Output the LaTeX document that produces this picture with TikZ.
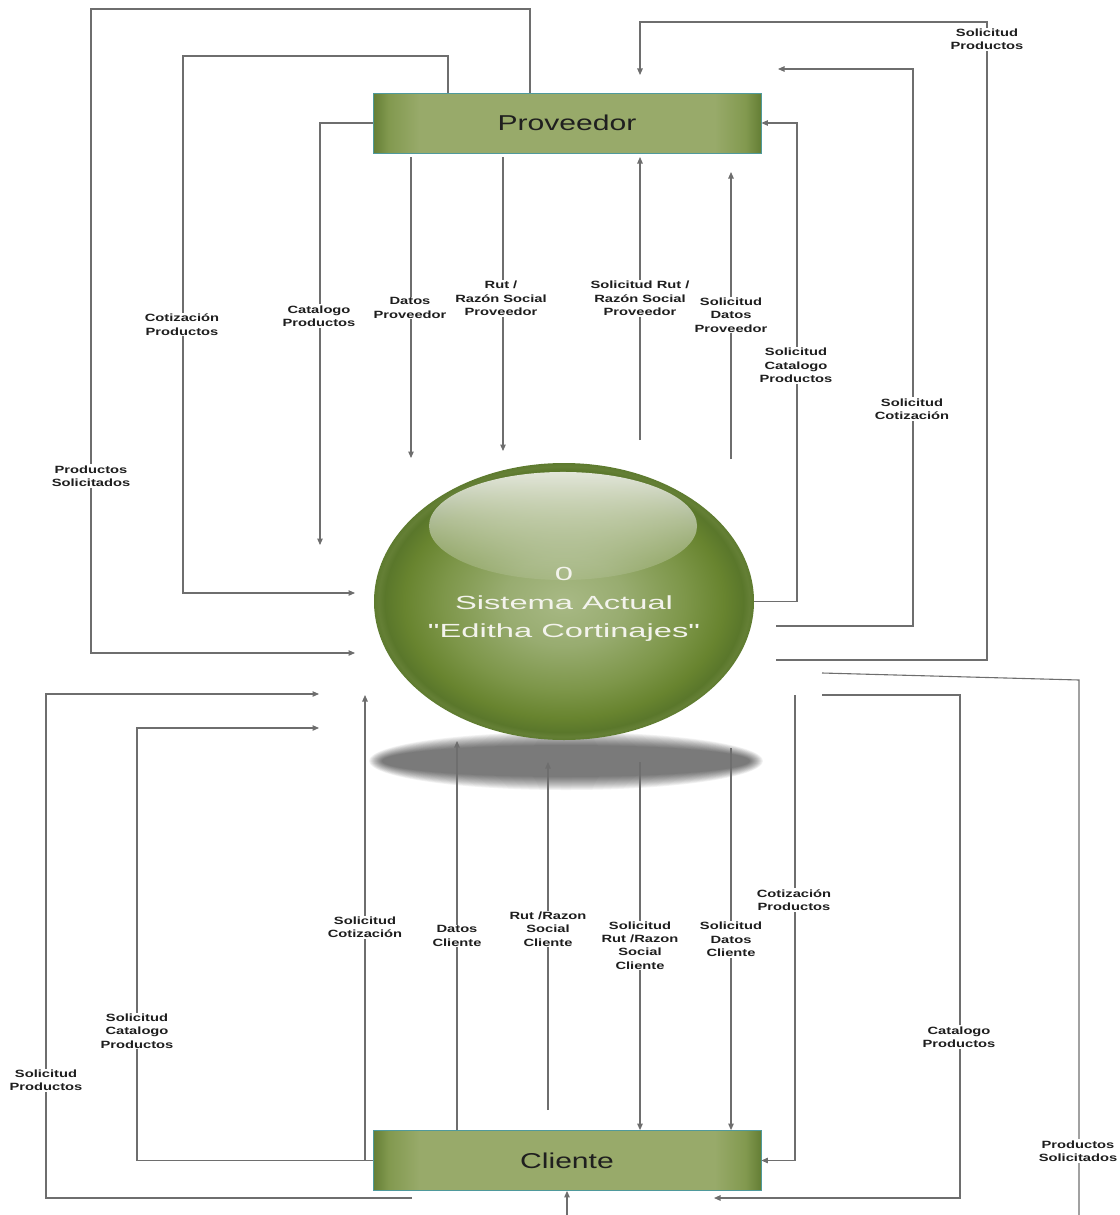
\documentclass[tikz,border=0pt]{standalone}
\usepackage{fontspec}
\setmainfont{Liberation Sans}[FakeStretch=1.4]
\newfontfamily\spherefont{Liberation Sans}[FakeStretch=1.72]
\usetikzlibrary{arrows.meta,shapes.geometric,fadings}
\definecolor{linec}{HTML}{6E6E6E}
\definecolor{labelc}{HTML}{1E1E1E}
\definecolor{bdark}{HTML}{647E35}
\definecolor{bmid}{HTML}{82994F}
\definecolor{blight}{HTML}{98AA6A}
\definecolor{boxedge}{HTML}{4F9A9C}
\definecolor{s0}{HTML}{A8B985}
\definecolor{s1}{HTML}{98AC70}
\definecolor{s2}{HTML}{7D9649}
\definecolor{s3}{HTML}{68842F}
\definecolor{s4}{HTML}{5A772B}
\definecolor{s5}{HTML}{647F35}
\definecolor{s6}{HTML}{5E7B2F}
\definecolor{hlcol}{HTML}{ECEEE6}
\definecolor{spheretext}{HTML}{F3F3EC}
\pgfdeclarehorizontalshading{boxshade}{100bp}{color(0bp)=(bdark); color(25bp)=(bdark); color(27bp)=(bmid); color(31bp)=(blight); color(69bp)=(blight); color(73bp)=(bmid); color(75bp)=(bdark); color(100bp)=(bdark)}
\pgfdeclareradialshading{sphereshade}{\pgfpoint{0bp}{0bp}}{color(0bp)=(s0); color(8bp)=(s1); color(16bp)=(s2); color(21bp)=(s3); color(23.6bp)=(s4); color(24.4bp)=(s5); color(25bp)=(s6); color(50bp)=(s6)}
\tikzfading[name=hlfade, top color=transparent!6, bottom color=transparent!90]
\begin{document}
\begin{tikzpicture}[x=1pt,y=-1pt,
  entity/.style={draw=boxedge, line width=0.8pt, shading=boxshade, minimum width=388pt, minimum height=60pt, inner sep=0pt, font=\fontsize{21.5}{24}\selectfont, text=black!88},
  lbl/.style={fill=white, inner sep=1pt, align=center, font=\bfseries\fontsize{10.5}{13.4}\selectfont, text=labelc},
  conn/.style={draw=linec, line width=1.1pt},
  flow/.style={conn, -{Triangle[length=6.5pt,width=5.5pt]}}]
\useasboundingbox (0,0) rectangle (1119,1215);
% shadow (soft, built from stacked translucent ellipses)
\foreach \i in {0,...,13}{
  \fill[black, opacity=0.052] (566,761) ellipse ({197-\i} and {29-\i});
}
% sphere
\node[ellipse, minimum width=380pt, minimum height=277pt, inner sep=0pt, shading=sphereshade] (sys) at (564,601.5) {};
\fill[hlcol, path fading=hlfade] (563,526) ellipse (134 and 54);
\node[font=\spherefont\fontsize{19}{28.5}\selectfont, text=spheretext, align=center] (systxt) at (564,604.5) {0\\Sistema Actual\\"Editha Cortinajes"};
% entities
\node[entity] (prov) at (567,123) {Proveedor};
\node[entity] (cli) at (567,1160.5) {Cliente};
% free ends
\coordinate (e1) at (355,653);
\coordinate (e2) at (355,593);
\coordinate (e3) at (320,545);
\coordinate (s4) at (411,157); \coordinate (e4) at (411,458);
\coordinate (s5) at (503,157); \coordinate (e5) at (503,451);
\coordinate (s6) at (640,440); \coordinate (e6) at (640,157);
\coordinate (s7) at (731,459); \coordinate (e7) at (731,172);
\coordinate (s9) at (776,626); \coordinate (e9) at (778,69);
\coordinate (s10) at (776,660); \coordinate (e10) at (640,75);
\coordinate (s11) at (822,673); \coordinate (f11) at (1079,1215);
\coordinate (s12) at (822,695); \coordinate (e12) at (714,1198);
\coordinate (s13) at (795,695);
\coordinate (s14) at (731,748);
\coordinate (s15) at (640,762);
\coordinate (s16) at (548,1110); \coordinate (e16) at (548,762);
\coordinate (e17) at (457,741);
\coordinate (e18) at (365,695);
\coordinate (e19) at (319,728);
\coordinate (s20) at (412,1198); \coordinate (e20) at (319,694);
\coordinate (s21) at (567,1215);
% top connectors
\draw[flow] (prov.north -| 530,0) -- (530,9) -- (91,9) -- (91,653) -- (e1);
\draw[flow] (prov.north -| 448,0) -- (448,56) -- (183,56) -- (183,593) -- (e2);
\draw[flow] (prov.west) -- (320,123) -- (e3);
\draw[flow] (s4) -- (e4);
\draw[flow] (s5) -- (e5);
\draw[flow] (s6) -- (e6);
\draw[flow] (s7) -- (e7);
\draw[flow] (sys.east) -- (797,601.5) -- (797,123) -- (prov.east);
\draw[flow] (s9) -- (913,626) -- (913,69) -- (e9);
\draw[flow] (s10) -- (987,660) -- (987,22) -- (640,22) -- (e10);
% bottom connectors
\draw[conn] (s11) -- (1079,680) -- (f11);
\draw[flow] (s21) -- (cli.south);
\draw[flow] (s12) -- (960,695) -- (960,1198) -- (e12);
\draw[flow] (s13) -- (795,1160.5) -- (cli.east);
\draw[flow] (s14) -- (cli.north -| 731,0);
\draw[flow] (s15) -- (cli.north -| 640,0);
\draw[flow] (s16) -- (e16);
\draw[flow] (cli.north -| 457,0) -- (e17);
\draw[flow] (cli.west -| 365,0) -- (e18);
\draw[flow] (cli.west) -- (137,1160.5) -- (137,728) -- (e19);
\draw[flow] (s20) -- (46,1198) -- (46,694) -- (e20);
% labels top
\node[lbl] (l1) at (91,476) {Productos\\Solicitados};
\node[lbl] (l2) at (182,324.5) {Cotización\\Productos};
\node[lbl] (l3) at (319,316) {Catalogo\\Productos};
\node[lbl] (l4) at (410,308) {Datos\\Proveedor};
\node[lbl] (l5) at (501,298.5) {Rut /\\Razón Social\\Proveedor};
\node[lbl] (l6) at (640,298.5) {Solicitud Rut /\\Razón Social\\Proveedor};
\node[lbl] (l7) at (731,315) {Solicitud\\Datos\\Proveedor};
\node[lbl] (l8) at (796,365.5) {Solicitud\\Catalogo\\Productos};
\node[lbl] (l9) at (912,409) {Solicitud\\Cotización};
\node[lbl] (l10) at (987,39.5) {Solicitud\\Productos};
% labels bottom
\node[lbl] (l11) at (365,927.5) {Solicitud\\Cotización};
\node[lbl] (l12) at (457,936) {Datos\\Cliente};
\node[lbl] (l13) at (548,929) {Rut /Razon\\Social\\Cliente};
\node[lbl] (l14) at (640,945.5) {Solicitud\\Rut /Razon\\Social\\Cliente};
\node[lbl] (l15) at (731,939.5) {Solicitud\\Datos\\Cliente};
\node[lbl] (l16) at (794,900) {Cotización\\Productos};
\node[lbl] (l17) at (959,1037) {Catalogo\\Productos};
\node[lbl] (l18) at (137,1031) {Solicitud\\Catalogo\\Productos};
\node[lbl] (l19) at (46,1080.5) {Solicitud\\Productos};
\node[lbl] (l20) at (1078,1151) {Productos\\Solicitados};
\end{tikzpicture}
\end{document}
